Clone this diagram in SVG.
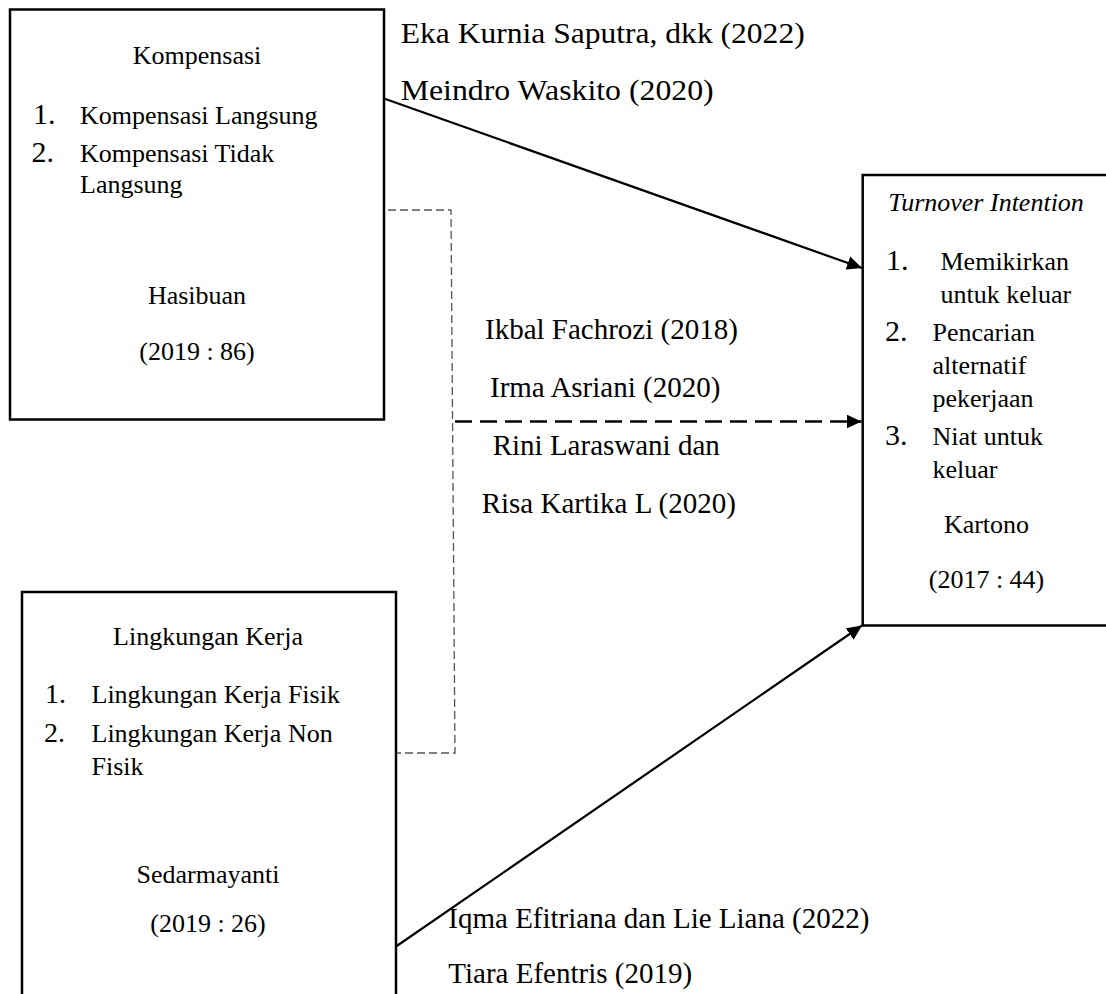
<svg xmlns="http://www.w3.org/2000/svg" width="1106" height="994" viewBox="0 0 1106 994">
  <style>
    .t { font-family: "Liberation Serif", "Times New Roman", serif; fill: #000; }
    .body { font-size: 26px; }
    .num { font-size: 30px; }
    .lbl { font-size: 29px; }
    .mid { text-anchor: middle; }
    .box { fill: none; stroke: #000; stroke-width: 2.5; }
    .solid { fill: none; stroke: #000; stroke-width: 2.2; }
    .dasharrow { fill: none; stroke: #000; stroke-width: 2.5; stroke-dasharray: 17 8; }
    .thin { fill: none; stroke: #555; stroke-width: 1.3; stroke-dasharray: 8 4; }
  </style>
  <defs>
    <marker id="ah" markerWidth="16" markerHeight="14" refX="15" refY="7" orient="auto" markerUnits="userSpaceOnUse">
      <path d="M0,0 L15,7 L0,14 z" fill="#000"/>
    </marker>
  </defs>
  <rect width="1106" height="994" fill="#fff"/>

  <g id="kompensasi">
    <rect class="box" x="10" y="9.5" width="374" height="410"/>
    <text class="t body mid" x="197" y="64">Kompensasi</text>
    <text class="t num" x="33" y="124">1.</text>
    <text class="t body" x="80" y="124">Kompensasi Langsung</text>
    <text class="t num" x="31.5" y="162">2.</text>
    <text class="t body" x="80" y="162">Kompensasi Tidak</text>
    <text class="t body" x="80" y="193">Langsung</text>
    <text class="t body mid" x="197" y="304">Hasibuan</text>
    <text class="t body mid" x="197" y="360">(2019 : 86)</text>
  </g>

  <g id="lingkungan-kerja">
    <path class="box" d="M22,1000 L22,592 L396,592 L396,1000"/>
    <text class="t body mid" x="208" y="645">Lingkungan Kerja</text>
    <text class="t body" x="45" y="703" style="font-size:28px">1.</text>
    <text class="t body" x="91.5" y="703">Lingkungan Kerja Fisik</text>
    <text class="t body" x="44" y="741.5" style="font-size:28px">2.</text>
    <text class="t body" x="91.5" y="741.5">Lingkungan Kerja Non</text>
    <text class="t body" x="91.5" y="775">Fisik</text>
    <text class="t body mid" x="208" y="883">Sedarmayanti</text>
    <text class="t body mid" x="208" y="931.5">(2019 : 26)</text>
  </g>

  <g id="turnover-intention">
    <path class="box" d="M1110,175 L862.7,175 L862.7,625.5 L1110,625.5"/>
    <text class="t body mid" x="986" y="210.5" font-style="italic">Turnover Intention</text>
    <text class="t num" x="886" y="269.5">1.</text>
    <text class="t body" x="940.5" y="269.5">Memikirkan</text>
    <text class="t body" x="940.5" y="302.5">untuk keluar</text>
    <text class="t num" x="885" y="340.5">2.</text>
    <text class="t body" x="932.5" y="340.5">Pencarian</text>
    <text class="t body" x="932.5" y="374">alternatif</text>
    <text class="t body" x="932.5" y="407">pekerjaan</text>
    <text class="t num" x="885" y="445">3.</text>
    <text class="t body" x="932.5" y="445">Niat untuk</text>
    <text class="t body" x="932.5" y="478">keluar</text>
    <text class="t body mid" x="986.5" y="533">Kartono</text>
    <text class="t body mid" x="986.5" y="588">(2017 : 44)</text>
  </g>

  <g id="connectors">
    <line class="solid" x1="384" y1="98.5" x2="862" y2="268" marker-end="url(#ah)"/>
    <line class="solid" x1="396" y1="946.5" x2="862" y2="625.5" marker-end="url(#ah)"/>
    <polyline class="thin" points="388,210 451,210 455,753 397,753"/>
    <line class="dasharrow" x1="455" y1="421.5" x2="861.5" y2="421.5" marker-end="url(#ah)"/>
  </g>

  <g id="labels">
    <text class="t lbl" x="400.7" y="43.3" textLength="404" lengthAdjust="spacingAndGlyphs">Eka Kurnia Saputra, dkk (2022)</text>
    <text class="t lbl" x="400.7" y="100" textLength="313" lengthAdjust="spacingAndGlyphs">Meindro Waskito (2020)</text>
    <text class="t lbl" x="485" y="339.3">Ikbal Fachrozi (2018)</text>
    <text class="t lbl" x="490" y="397.3">Irma Asriani (2020)</text>
    <text class="t lbl" x="492.7" y="455">Rini Laraswani dan</text>
    <text class="t lbl" x="481.7" y="513.3">Risa Kartika L (2020)</text>
    <text class="t lbl" x="448.3" y="928.3">Iqma Efitriana dan Lie Liana (2022)</text>
    <text class="t lbl" x="448.3" y="983.3">Tiara Efentris (2019)</text>
  </g>
</svg>
